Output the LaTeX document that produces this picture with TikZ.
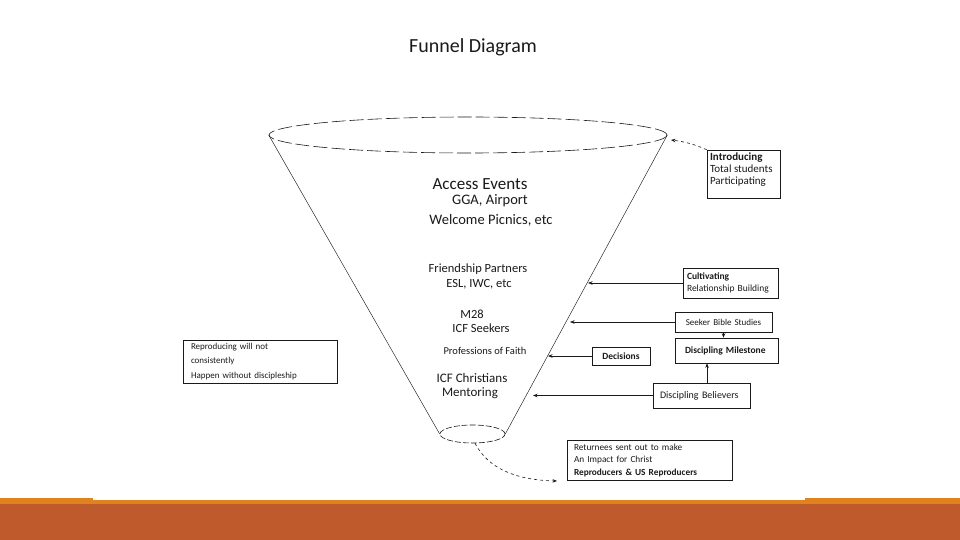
\documentclass[tikz,border=0pt]{standalone}
\usepackage{fontspec}
\setmainfont{Carlito}
\usetikzlibrary{shapes.geometric,arrows.meta,calc}
\definecolor{bandorange}{HTML}{E0831E}
\definecolor{bandrust}{HTML}{BE5A2C}
\definecolor{ink}{HTML}{1A1A1A}
\begin{document}
\begin{tikzpicture}[x=1pt,y=-1pt,
  line/.style={draw=ink,line width=0.6pt},
  arr/.style={line,-{Stealth[length=4.5pt,width=3.5pt]}},
  box/.style={draw=ink,line width=0.6pt,inner ysep=0pt,text=ink,align=left,font=\fontsize{9.5}{12.5}\selectfont},
  ftext/.style={inner sep=0pt,text=ink,align=center},
]
\useasboundingbox (0,0) rectangle (960,540);
\fill[white] (0,0) rectangle (960,540);
% bottom band
\fill[bandorange] (0,497.5) rectangle (960,504);
\fill[white] (93,497.5) rectangle (805,500);
\fill[bandrust] (0,504) rectangle (960,540);

% title
\node[ftext,font=\fontsize{20}{22}\selectfont] (title) at (473,47) {Funnel Diagram};

% funnel
\node[ellipse,draw=ink,line width=0.6pt,dash pattern=on 14pt off 4pt,minimum width=398pt,minimum height=36pt,inner sep=0pt] (top) at (468,135) {};
\node[ellipse,draw=ink,line width=0.6pt,dash pattern=on 6pt off 2pt,minimum width=65pt,minimum height=18pt,inner sep=0pt] (bot) at (472.5,434) {};
\draw[line,line width=0.45pt] (top.west) -- (bot.west);
\draw[line,line width=0.45pt] (top.east) -- (bot.east);

% funnel texts
\node[ftext,font=\fontsize{17}{19}\selectfont] (acc) at (480,184) {Access Events};
\node[ftext,font=\fontsize{14.5}{16}\selectfont] (gga) at (490,201) {GGA, Airport};
\node[ftext,font=\fontsize{14.5}{16}\selectfont] (wel) at (491,220) {Welcome Picnics, etc};
\node[ftext,font=\fontsize{12.5}{14}\selectfont] (fri) at (478,269) {Friendship Partners};
\node[ftext,font=\fontsize{12.5}{14}\selectfont] (esl) at (479,284) {ESL, IWC, etc};
\node[ftext,font=\fontsize{12.5}{14}\selectfont] (m28) at (472,314) {M28};
\node[ftext,font=\fontsize{12.5}{14}\selectfont] (sek) at (481,328) {ICF Seekers};
\node[ftext,font=\fontsize{10.5}{12}\selectfont] (pro) at (485,351) {Professions of Faith};
\node[ftext,font=\fontsize{13}{15}\selectfont] (chr) at (472,378) {ICF Christians};
\node[ftext,font=\fontsize{13}{15}\selectfont] (men) at (470,393) {Mentoring};

% side boxes
\node[box,inner xsep=0pt,inner ysep=0pt,font=\fontsize{11}{12}\selectfont] (intro) at (743.5,174)
  {\parbox[c][48pt][t]{73pt}{\leftskip=3pt\rule{0pt}{11pt}\textbf{Introducing}\\Total students\\Participating}};
\node[box,text width=87pt,inner xsep=4pt,minimum height=30pt] (cult) at (730.5,283)
  {\textbf{Cultivating}\\Relationship Building};
\node[box,align=center,text width=97pt,inner xsep=0pt,minimum height=20pt,font=\fontsize{9}{12}\selectfont] (seek) at (723.5,322)
  {Seeker Bible Studies};
\node[box,text width=83pt,inner xsep=10pt,minimum height=25pt] (mile) at (726.5,350.5)
  {\raisebox{-2.5pt}{\textbf{Discipling Milestone}}};
\node[box,align=center,text width=58pt,inner xsep=0pt,minimum height=18pt] (dec) at (621,356)
  {\textbf{Decisions}};
\node[box,text width=83pt,inner xsep=7pt,minimum height=25pt,font=\fontsize{10}{12}\selectfont] (bel) at (701.5,395.5)
  {Discipling Believers};
\node[box,text width=138pt,inner xsep=8pt,minimum height=43pt,font=\fontsize{9}{14.5}\selectfont] (rep) at (260,361.5)
  {Reproducing will not\\consistently\\Happen without discipleship};
\node[box,text width=151pt,inner xsep=7pt,minimum height=40pt,font=\fontsize{9.3}{12.5}\selectfont] (ret) at (649.5,460)
  {Returnees sent out to make\\An Impact for Christ\\\textbf{Reproducers \& US Reproducers}};

% arrow ends on the funnel
\coordinate (ti) at (671,140);
\coordinate (f1) at (588,283);
\coordinate (f2) at (570,322);
\coordinate (f3) at (548,356);
\coordinate (f4) at (533,395.5);
\coordinate (rt) at (557,481);

% connectors
\draw[arr,dashed] (intro.north west) to[bend right=8] (ti);
\draw[arr] (cult.west) -- (f1);
\draw[arr] (seek.west) -- (f2);
\draw[arr] (dec.west) -- (f3);
\draw[arr] (bel.west) -- (f4);
\draw[arr] (seek.south) -- (seek.south |- mile.north);
\draw[arr] ([xshift=5.5pt]bel.north) -- ([xshift=5.5pt]bel.north |- mile.south);
\draw[arr,dashed] (bot.-75) .. controls (488,468) and (515,480) .. (rt);
\end{tikzpicture}
\end{document}
